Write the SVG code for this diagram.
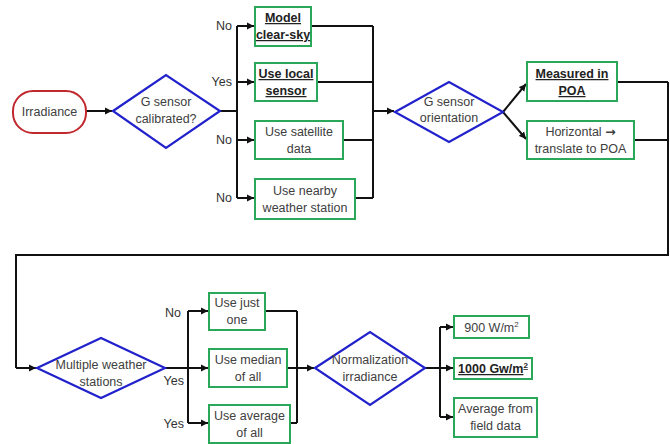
<svg xmlns="http://www.w3.org/2000/svg" width="670" height="444" viewBox="0 0 670 444">
<defs>
<marker id="ah" markerWidth="8" markerHeight="8" refX="7" refY="4" orient="auto" markerUnits="userSpaceOnUse">
<path d="M0,0.5 L7,4 L0,7.5 Z" fill="#111"/>
</marker>
<style>
text{font-family:"Liberation Sans",Arial,sans-serif;font-size:12.5px;fill:#404040;text-anchor:middle}
.b{font-weight:bold;text-decoration:underline;fill:#222}
.lbl{text-anchor:end;fill:#333}
.box{fill:#fff;stroke:#2aa85a;stroke-width:2}
.dia{fill:#fff;stroke:#2222cc;stroke-width:2.2}
.term{fill:#fff;stroke:#c0282d;stroke-width:2}
.c{fill:none;stroke:#111;stroke-width:2}
.a{fill:none;stroke:#111;stroke-width:2;marker-end:url(#ah)}
</style>
</defs>
<rect width="670" height="444" fill="#fff"/>
<g id="connectors">
<path class="a" d="M86,111 H112"/>
<path class="c" d="M220,111 H237 M237,26 V198"/>
<path class="a" d="M237,26 H254"/>
<path class="a" d="M237,82 H254"/>
<path class="a" d="M237,140 H254"/>
<path class="a" d="M237,198 H254"/>
<path class="c" d="M311,26 H373 M317,82 H373 M343,140 H373 M355,198 H373 M373,26 V198"/>
<path class="a" d="M373,111 H394"/>
<path class="a" d="M503,112 L526,84"/>
<path class="a" d="M503,112 L526,139"/>
<path class="c" d="M617,82 H668 M634,140 H668 M668,82 V255 H16 V368"/>
<path class="a" d="M16,368 H36"/>
<path class="c" d="M165,368 H188 M188,311 V423"/>
<path class="a" d="M188,311 H208"/>
<path class="a" d="M188,368 H208"/>
<path class="a" d="M188,423 H208"/>
<path class="c" d="M265,311 H297 M290,423 H297 M297,311 V423"/>
<path class="a" d="M287,368 H314"/>
<path class="c" d="M425,368 H440 M440,327 V417"/>
<path class="a" d="M440,327 H453"/>
<path class="a" d="M440,368 H453"/>
<path class="a" d="M440,417 H453"/>
<text class="lbl" x="232" y="30">No</text>
<text class="lbl" x="232" y="86">Yes</text>
<text class="lbl" x="232" y="144">No</text>
<text class="lbl" x="232" y="202">No</text>
<text class="lbl" x="181" y="317">No</text>
<text class="lbl" x="184" y="385">Yes</text>
<text class="lbl" x="184" y="428">Yes</text>
</g>
<g id="irradiance">
<rect class="term" x="13" y="91" width="73" height="42" rx="20" ry="20"/>
<text x="49.5" y="115.5">Irradiance</text>
</g>
<g id="sensor-calibrated">
<polygon class="dia" points="113,111 166,75 220,111 166,148"/>
<text x="166" y="106">G sensor</text>
<text x="166" y="123">calibrated?</text>
</g>
<g id="model-clear-sky">
<rect class="box" x="255" y="7" width="56" height="39"/>
<text class="b" x="283" y="22">Model</text>
<text class="b" x="283" y="39">clear-sky</text>
</g>
<g id="use-local-sensor">
<rect class="box" x="255" y="63" width="62" height="38"/>
<text class="b" x="286" y="78">Use local</text>
<text class="b" x="286" y="95">sensor</text>
</g>
<g id="use-satellite">
<rect class="box" x="255" y="121" width="88" height="38"/>
<text x="299" y="136">Use satellite</text>
<text x="299" y="153">data</text>
</g>
<g id="use-nearby">
<rect class="box" x="255" y="179" width="100" height="40"/>
<text x="305" y="195">Use nearby</text>
<text x="305" y="212">weather station</text>
</g>
<g id="sensor-orientation">
<polygon class="dia" points="395,112 449,82 503,112 449,142"/>
<text x="449" y="106">G sensor</text>
<text x="449" y="122">orientation</text>
</g>
<g id="measured-poa">
<rect class="box" x="527" y="62" width="90" height="39"/>
<text class="b" x="572" y="78">Measured in</text>
<text class="b" x="572" y="95">POA</text>
</g>
<g id="horizontal">
<rect class="box" x="527" y="121" width="107" height="38"/>
<text x="580.5" y="136">Horizontal <tspan font-family="DejaVu Sans" font-weight="bold">→</tspan></text>
<text x="580.5" y="153">translate to POA</text>
</g>
<g id="multiple-stations">
<polygon class="dia" points="37,368 101,338 165,368 101,398"/>
<text x="101" y="369">Multiple weather</text>
<text x="101" y="386">stations</text>
</g>
<g id="use-just-one">
<rect class="box" x="209" y="293" width="56" height="37"/>
<text x="237" y="307">Use just</text>
<text x="237" y="324">one</text>
</g>
<g id="use-median">
<rect class="box" x="209" y="349" width="78" height="38"/>
<text x="248" y="364">Use median</text>
<text x="248" y="381">of all</text>
</g>
<g id="use-average">
<rect class="box" x="209" y="405" width="81" height="38"/>
<text x="249.5" y="420">Use average</text>
<text x="249.5" y="437">of all</text>
</g>
<g id="normalization">
<polygon class="dia" points="315,368 370,332 425,368 370,405"/>
<text x="370" y="364">Normalization</text>
<text x="370" y="381">irradiance</text>
</g>
<g id="w900">
<rect class="box" x="454" y="316" width="75" height="22"/>
<text x="491.5" y="331.5">900 W/m<tspan font-size="8" dy="-5">2</tspan></text>
</g>
<g id="gw1000">
<rect class="box" x="454" y="358" width="78" height="21"/>
<text class="b" x="493" y="373">1000 Gw/m<tspan font-size="8" dy="-5">2</tspan></text>
</g>
<g id="average-field">
<rect class="box" x="454" y="398" width="83" height="39"/>
<text x="495.5" y="413">Average from</text>
<text x="495.5" y="430">field data</text>
</g>
</svg>
